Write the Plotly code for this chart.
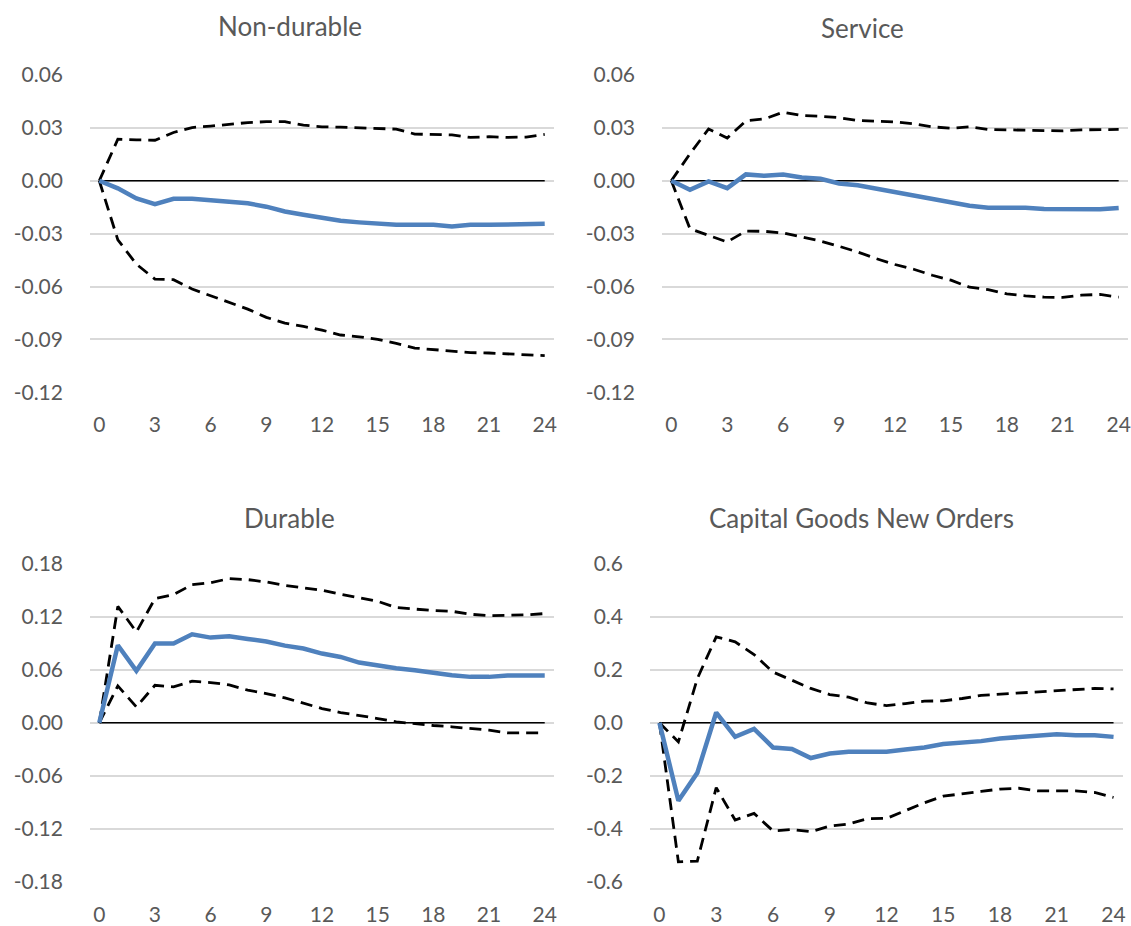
import plotly.graph_objects as go

horizon = list(range(25))
x_ticks = [0, 3, 6, 9, 12, 15, 18, 21, 24]

titles = ["Non-durable", "Service", "Durable", "Capital Goods New Orders"]

nondur_irf = [0, -0.0043, -0.010, -0.0132, -0.0102, -0.0102, -0.011, -0.012, -0.0128, -0.0147,
              -0.0174, -0.0193, -0.021, -0.0227, -0.0236, -0.0244, -0.025, -0.025, -0.025, -0.026,
              -0.025, -0.025, -0.025, -0.025, -0.0244]
nondur_hi = [0, 0.0236, 0.0232, 0.023, 0.0274, 0.0302, 0.031, 0.032, 0.033, 0.0335,
             0.0335, 0.0316, 0.0306, 0.0304, 0.0299, 0.0297, 0.0293, 0.0265, 0.0263, 0.026,
             0.0246, 0.025, 0.0246, 0.0248, 0.0263]
nondur_lo = [0, -0.0335, -0.0473, -0.0558, -0.0561, -0.0614, -0.0652, -0.069, -0.0728, -0.0775,
             -0.0807, -0.0826, -0.0847, -0.0875, -0.0885, -0.090, -0.0922, -0.0949, -0.0958, -0.0968,
             -0.0975, -0.0977, -0.0983, -0.099, -0.0992]

serv_irf = [0, -0.0051, -0.0004, -0.0042, 0.0036, 0.0028, 0.0036, 0.0019, 0.0011, -0.0015,
            -0.0025, -0.0045, -0.0062, -0.0087, -0.0106, -0.0123, -0.0142, -0.0153, -0.0153, -0.0153,
            -0.016, -0.0162, -0.0162, -0.0162, -0.0155]
serv_hi = [0, 0.0153, 0.0294, 0.0242, 0.034, 0.0351, 0.0389, 0.037, 0.0366, 0.0358,
           0.0342, 0.0336, 0.0334, 0.0323, 0.0306, 0.0298, 0.0306, 0.0291, 0.0289, 0.0289,
           0.0283, 0.0283, 0.0289, 0.0291, 0.0291]
serv_lo = [0, -0.0272, -0.031, -0.0347, -0.0285, -0.0287, -0.0296, -0.0319, -0.0342, -0.0372,
           -0.0404, -0.0442, -0.0475, -0.0502, -0.0536, -0.0564, -0.0604, -0.0617, -0.0642, -0.0653,
           -0.066, -0.0662, -0.0649, -0.0645, -0.066]

dur_irf = [0, 0.0879, 0.0589, 0.0898, 0.0898, 0.1004, 0.0966, 0.0981, 0.0951, 0.0921,
           0.0875, 0.0842, 0.0785, 0.0747, 0.0683, 0.0649, 0.0619, 0.0596, 0.0562, 0.054,
           0.0521, 0.0521, 0.0536, 0.0536, 0.0536]
dur_hi = [0, 0.132, 0.103, 0.1408, 0.1453, 0.1566, 0.1589, 0.1634, 0.1623, 0.1596,
          0.1558, 0.1532, 0.1502, 0.1457, 0.1419, 0.1377, 0.1306, 0.1287, 0.1272, 0.1264,
          0.123, 0.1215, 0.1215, 0.1223, 0.1238]
dur_lo = [0, 0.0419, 0.0181, 0.0426, 0.0408, 0.0472, 0.0457, 0.043, 0.037, 0.0332,
          0.0283, 0.0219, 0.0162, 0.0117, 0.0087, 0.0049, 0.0011, -0.0011, -0.003, -0.0045,
          -0.0064, -0.0083, -0.0113, -0.0113, -0.0113]

cap_irf = [0, -0.294, -0.189, 0.039, -0.053, -0.023, -0.093, -0.099, -0.133, -0.116,
           -0.109, -0.109, -0.109, -0.101, -0.093, -0.080, -0.075, -0.069, -0.059, -0.054,
           -0.049, -0.043, -0.047, -0.047, -0.053]
cap_hi = [0, -0.072, 0.167, 0.325, 0.306, 0.258, 0.192, 0.161, 0.130, 0.107,
          0.097, 0.075, 0.065, 0.073, 0.082, 0.083, 0.092, 0.104, 0.108, 0.112,
          0.118, 0.122, 0.125, 0.130, 0.128]
cap_lo = [0, -0.525, -0.522, -0.245, -0.367, -0.342, -0.408, -0.403, -0.411, -0.390,
          -0.382, -0.362, -0.361, -0.332, -0.302, -0.277, -0.269, -0.259, -0.250, -0.247,
          -0.257, -0.257, -0.257, -0.263, -0.282]

y_ticks_top = [-0.12, -0.09, -0.06, -0.03, 0.0, 0.03, 0.06]
y_ticks_dur = [-0.18, -0.12, -0.06, 0.0, 0.06, 0.12, 0.18]
y_ticks_cap = [-0.6, -0.4, -0.2, 0.0, 0.2, 0.4, 0.6]

panels = [
    (nondur_irf, nondur_hi, nondur_lo, y_ticks_top, ".2f"),
    (serv_irf, serv_hi, serv_lo, y_ticks_top, ".2f"),
    (dur_irf, dur_hi, dur_lo, y_ticks_dur, ".2f"),
    (cap_irf, cap_hi, cap_lo, y_ticks_cap, ".1f"),
]

W, H = 1131, 926
x_doms = [(90 / W, 554 / W), (662 / W, 1128 / W), (90 / W, 554 / W), (650 / W, 1123 / W)]
y_doms = [(1 - 392.3 / H, 1 - 75 / H), (1 - 392.3 / H, 1 - 75 / H),
          (1 - 881.7 / H, 1 - 564 / H), (1 - 881.7 / H, 1 - 564 / H)]
title_pos = [(290 / W, 1 - 26 / H), (862 / W, 1 - 28 / H), (289 / W, 1 - 518 / H), (861 / W, 1 - 518 / H)]

GRAY = "#595959"
FONT = "Lato"
BLUE = "#4F81BD"

fig = go.Figure()
layout = dict(
    width=W, height=H,
    margin=dict(l=0, r=0, t=0, b=0, autoexpand=False),
    paper_bgcolor="white", plot_bgcolor="white",
    showlegend=False,
    font=dict(family=FONT, color=GRAY, size=21),
    annotations=[],
)

for i, (irf, hi, lo, yt, fmt) in enumerate(panels):
    n = i + 1
    xa = "x" if n == 1 else f"x{n}"
    ya = "y" if n == 1 else f"y{n}"
    # zero line
    fig.add_trace(go.Scatter(x=[horizon[0], horizon[-1]], y=[0, 0], mode="lines",
                             line=dict(color="black", width=1.5), xaxis=xa, yaxis=ya,
                             hoverinfo="skip"))
    fig.add_trace(go.Scatter(x=horizon, y=hi, mode="lines",
                             line=dict(color="black", width=2.8, dash="12px,7px"),
                             xaxis=xa, yaxis=ya))
    fig.add_trace(go.Scatter(x=horizon, y=lo, mode="lines",
                             line=dict(color="black", width=2.8, dash="12px,7px"),
                             xaxis=xa, yaxis=ya))
    fig.add_trace(go.Scatter(x=horizon, y=irf, mode="lines",
                             line=dict(color=BLUE, width=4.5),
                             xaxis=xa, yaxis=ya))
    xkey = "xaxis" if n == 1 else f"xaxis{n}"
    ykey = "yaxis" if n == 1 else f"yaxis{n}"
    layout[xkey] = dict(
        domain=list(x_doms[i]), anchor=ya, range=[-0.5, 24.5], automargin=False,
        tickmode="array", tickvals=x_ticks, ticktext=[str(v) for v in x_ticks],
        showgrid=False, zeroline=False, showline=False, ticks="",
        ticklabelstandoff=18, tickfont=dict(family=FONT, size=21, color=GRAY),
    )
    layout[ykey] = dict(
        domain=list(y_doms[i]), anchor=xa, range=[yt[0], yt[-1]], automargin=False,
        tickmode="array", tickvals=yt, ticktext=[format(v, fmt) for v in yt],
        showgrid=True, gridcolor="#D9D9D9", gridwidth=1.5, zeroline=False,
        showline=False, ticks="", ticklabelstandoff=26,
        tickfont=dict(family=FONT, size=21, color=GRAY),
    )
    layout["annotations"].append(dict(
        text=titles[i], x=title_pos[i][0], y=title_pos[i][1], xref="paper", yref="paper",
        xanchor="center", yanchor="middle", showarrow=False,
        font=dict(family=FONT, size=26, color=GRAY),
    ))

fig.update_layout(**layout)
fig.write_html("out.html")
